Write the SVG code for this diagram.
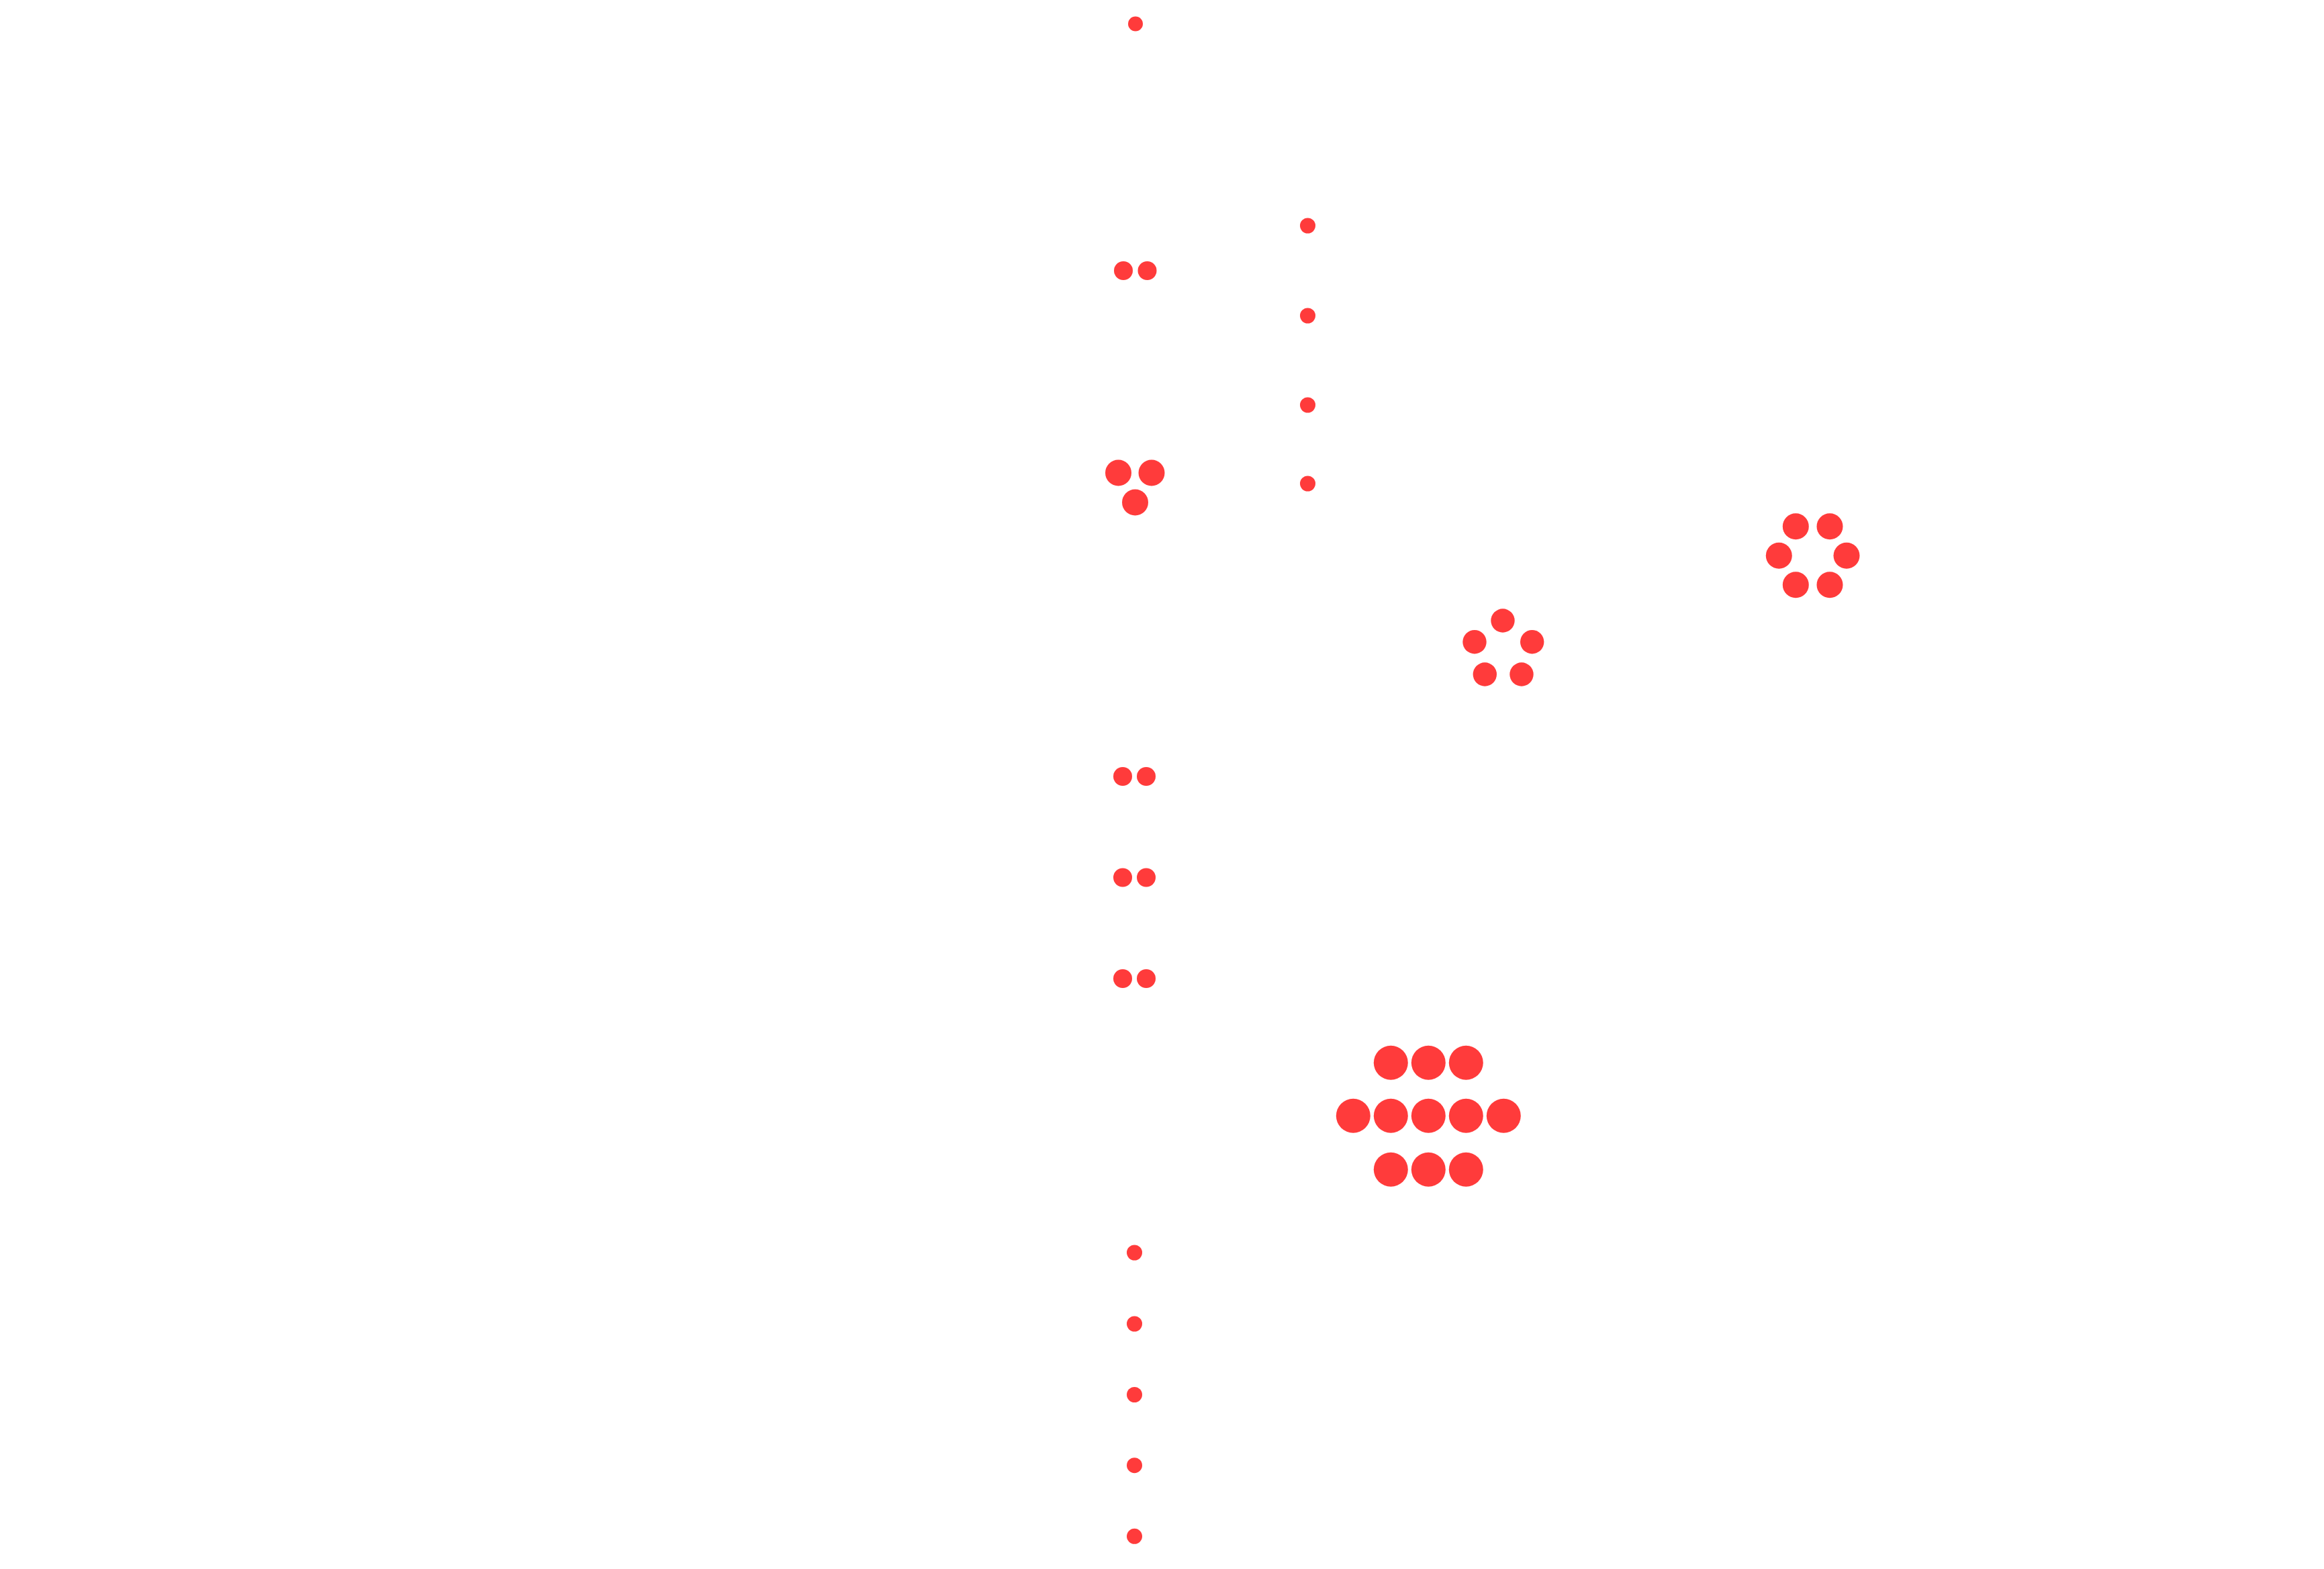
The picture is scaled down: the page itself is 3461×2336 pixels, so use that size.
<svg xmlns="http://www.w3.org/2000/svg" width="3461" height="2336" viewBox="0 0 3461 2336">
<style>
.d{fill:#ff3b3b;stroke:none}
</style>
<rect width="3461" height="2336" fill="#ffffff"/>
<g id="connectors"></g>
<g id="n1"><circle class="d" cx="1691" cy="35.5" r="11"/></g>
<g id="n2"><circle class="d" cx="1673" cy="403" r="14"/><circle class="d" cx="1708.5" cy="403" r="14"/></g>
<g id="n3"><circle class="d" cx="1665.5" cy="704" r="19.5"/><circle class="d" cx="1715" cy="704" r="19.5"/><circle class="d" cx="1690.5" cy="748" r="19.5"/></g>
<g id="n4"><circle class="d" cx="1947.5" cy="336" r="11.5"/></g>
<g id="n5"><circle class="d" cx="1947.5" cy="470" r="11.5"/></g>
<g id="n6"><circle class="d" cx="1947.5" cy="603" r="11.5"/></g>
<g id="n7"><circle class="d" cx="1947.5" cy="720" r="11.5"/></g>
<g id="n8"><circle class="d" cx="2238" cy="924" r="17.7"/><circle class="d" cx="2196" cy="955.7" r="17.7"/><circle class="d" cx="2281.7" cy="955.7" r="17.7"/><circle class="d" cx="2211.3" cy="1004" r="17.7"/><circle class="d" cx="2266" cy="1004" r="17.7"/></g>
<g id="n9"><circle class="d" cx="2674.3" cy="783.7" r="19.5"/><circle class="d" cx="2725" cy="783.7" r="19.5"/><circle class="d" cx="2649.3" cy="827.3" r="19.5"/><circle class="d" cx="2750" cy="827.3" r="19.5"/><circle class="d" cx="2674.3" cy="870.7" r="19.5"/><circle class="d" cx="2725" cy="870.7" r="19.5"/></g>
<g id="n10"><circle class="d" cx="1672" cy="1156" r="14"/><circle class="d" cx="1707" cy="1156" r="14"/></g>
<g id="n11"><circle class="d" cx="1672" cy="1306.5" r="14"/><circle class="d" cx="1707" cy="1306.5" r="14"/></g>
<g id="n12"><circle class="d" cx="1672" cy="1457" r="14"/><circle class="d" cx="1707" cy="1457" r="14"/></g>
<g id="n13">
<circle class="d" cx="2071.3" cy="1582.3" r="25.5"/><circle class="d" cx="2127.3" cy="1582.3" r="25.5"/><circle class="d" cx="2183.3" cy="1582.3" r="25.5"/>
<circle class="d" cx="2015.3" cy="1661.3" r="25.5"/><circle class="d" cx="2071.3" cy="1661.3" r="25.5"/><circle class="d" cx="2127.3" cy="1661.3" r="25.5"/><circle class="d" cx="2183.3" cy="1661.3" r="25.5"/><circle class="d" cx="2239.3" cy="1661.3" r="25.5"/>
<circle class="d" cx="2071.3" cy="1741.3" r="25.5"/><circle class="d" cx="2127.3" cy="1741.3" r="25.5"/><circle class="d" cx="2183.3" cy="1741.3" r="25.5"/>
</g>
<g id="n14"><circle class="d" cx="1689.5" cy="1865" r="11.5"/></g>
<g id="n15"><circle class="d" cx="1689.5" cy="1971" r="11.5"/></g>
<g id="n16"><circle class="d" cx="1689.5" cy="2076.5" r="11.5"/></g>
<g id="n17"><circle class="d" cx="1689.5" cy="2181.7" r="11.5"/></g>
<g id="n18"><circle class="d" cx="1689.5" cy="2287.3" r="11.5"/></g>
</svg>
